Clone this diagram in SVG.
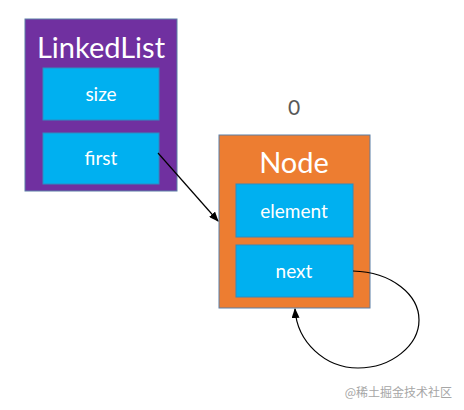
<svg xmlns="http://www.w3.org/2000/svg" width="464" height="410" viewBox="0 0 464 410">
<style>
.outer{stroke:#5B7FA6;stroke-width:1}
.field{fill:#00B0F0;stroke:#2E8BC0;stroke-width:1}
.title{font-family:Lato,"Liberation Sans",sans-serif;font-size:29px;fill:#fff;text-anchor:middle}
.ftxt{font-family:Lato,"Liberation Sans",sans-serif;font-size:19px;fill:#fff;text-anchor:middle}
.conn{fill:none;stroke:#000;stroke-width:1.2}
</style>
<defs>
<marker id="ah" markerWidth="10" markerHeight="8" refX="9" refY="4" orient="auto" markerUnits="userSpaceOnUse">
<path d="M0,0 L10,4 L0,8 z" fill="#000"/>
</marker>
</defs>
<rect width="464" height="410" fill="#fff"/>
<g id="linkedlist">
<rect class="outer" x="25" y="19" width="152" height="172" fill="#7030A0"/>
<text class="title" x="101" y="58">LinkedList</text>
<rect class="field" x="43" y="68" width="116" height="52"/>
<text class="ftxt" x="101" y="101">size</text>
<rect class="field" x="43" y="133" width="116" height="51"/>
<text class="ftxt" x="101" y="165">first</text>
</g>
<g id="node">
<text x="294" y="115" font-family="Lato,'Liberation Sans',sans-serif" font-size="21" fill="#595959" text-anchor="middle">0</text>
<rect class="outer" x="219" y="135" width="151" height="173" fill="#ED7D31"/>
<text class="title" x="294" y="173">Node</text>
<rect class="field" x="236" y="184" width="117" height="53"/>
<text class="ftxt" x="294" y="218">element</text>
<rect class="field" x="236" y="245" width="117" height="52"/>
<text class="ftxt" x="294" y="278">next</text>
</g>
<g id="connectors">
<path class="conn" d="M158,153 L218,221" marker-end="url(#ah)"/>
<path class="conn" d="M353,271 C392,272 419,295 419,320 C419,345 392,368 358,368 C325,368 297,342 295,309" marker-end="url(#ah)"/>
</g>
<text x="452" y="397" font-family="'Noto Sans CJK SC',sans-serif" font-size="12" fill="#A6A6A6" text-anchor="end">@稀土掘金技术社区</text>
</svg>
